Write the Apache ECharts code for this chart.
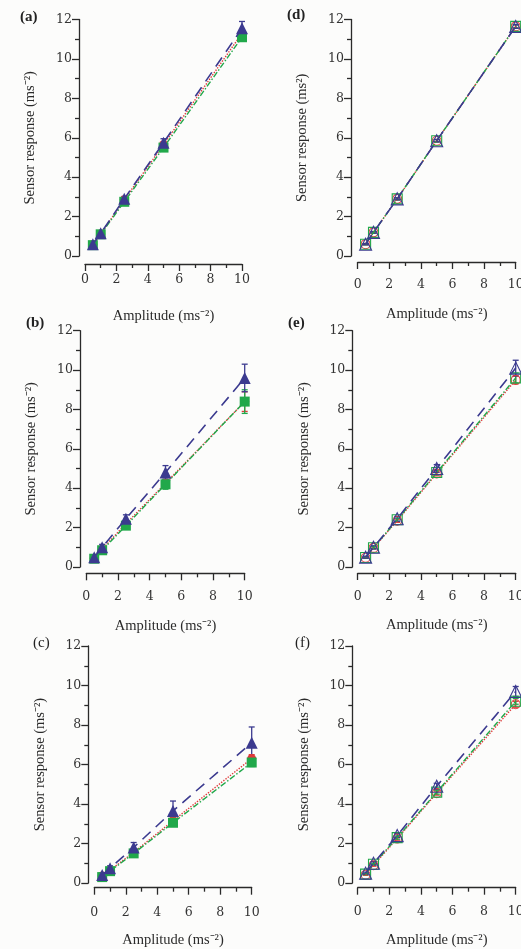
<!DOCTYPE html>
<html lang="en">
<head>
<meta charset="UTF-8">
<title>Sensor response vs amplitude</title>
<script src="https://cdn.jsdelivr.net/npm/echarts@6/dist/echarts.min.js"></script>
<style>
  html, body { margin: 0; padding: 0; background: #fcfcfb; }
  #main { width: 521px; height: 949px; }
</style>
</head>
<body>
<div id="main"></div>
<script>
// excitation amplitude (ms^-2), same for every panel
var amplitude = [0.5, 1, 2.5, 5, 10];
var panelNames = ['(a)', '(b)', '(c)', '(d)', '(e)', '(f)'];

// sensor response, one array per sensor and panel
var redA = [0.58, 1.12, 2.85, 5.65, 11.3];
var greenA = [0.55, 1.1, 2.75, 5.5, 11.1];
var blueA = [0.6, 1.15, 2.9, 5.75, 11.55];
var redB = [0.45, 0.9, 2.2, 4.25, 8.4];
var greenB = [0.42, 0.85, 2.1, 4.2, 8.4];
var blueB = [0.5, 1.0, 2.45, 4.8, 9.6];
var redC = [0.35, 0.65, 1.55, 3.15, 6.3];
var greenC = [0.3, 0.6, 1.5, 3.05, 6.1];
var blueC = [0.4, 0.75, 1.8, 3.65, 7.1];
var redD = [0.6, 1.2, 2.9, 5.85, 11.65];
var greenD = [0.6, 1.2, 2.9, 5.85, 11.65];
var blueD = [0.6, 1.2, 2.9, 5.85, 11.65];
var redE = [0.47, 0.97, 2.35, 4.75, 9.5];
var greenE = [0.48, 0.98, 2.4, 4.8, 9.6];
var blueE = [0.5, 1.0, 2.45, 5.0, 10.1];
var redF = [0.42, 0.9, 2.25, 4.55, 9.05];
var greenF = [0.45, 0.95, 2.3, 4.6, 9.2];
var blueF = [0.5, 1.0, 2.4, 4.9, 9.7];

// error bar half widths
var redErrA = [0.03, 0.05, 0.08, 0.12, 0.2];
var greenErrA = [0.03, 0.05, 0.08, 0.12, 0.2];
var blueErrA = [0.05, 0.08, 0.12, 0.2, 0.35];
var redErrB = [0.04, 0.06, 0.1, 0.2, 0.5];
var greenErrB = [0.05, 0.08, 0.12, 0.25, 0.6];
var blueErrB = [0.1, 0.15, 0.2, 0.35, 0.7];
var redErrC = [0.04, 0.05, 0.08, 0.15, 0.2];
var greenErrC = [0.04, 0.05, 0.08, 0.12, 0.2];
var blueErrC = [0.1, 0.12, 0.25, 0.5, 0.8];
var redErrD = [0.03, 0.04, 0.05, 0.06, 0.08];
var greenErrD = [0.03, 0.04, 0.05, 0.06, 0.08];
var blueErrD = [0.03, 0.04, 0.05, 0.06, 0.1];
var redErrE = [0.03, 0.05, 0.08, 0.12, 0.2];
var greenErrE = [0.03, 0.05, 0.08, 0.12, 0.25];
var blueErrE = [0.05, 0.08, 0.12, 0.2, 0.4];
var redErrF = [0.03, 0.05, 0.08, 0.1, 0.15];
var greenErrF = [0.03, 0.05, 0.08, 0.1, 0.15];
var blueErrF = [0.05, 0.08, 0.1, 0.15, 0.25];

var panelData = [
    [redA, greenA, blueA, redErrA, greenErrA, blueErrA],
    [redB, greenB, blueB, redErrB, greenErrB, blueErrB],
    [redC, greenC, blueC, redErrC, greenErrC, blueErrC],
    [redD, greenD, blueD, redErrD, greenErrD, blueErrD],
    [redE, greenE, blueE, redErrE, greenErrE, blueErrE],
    [redF, greenF, blueF, redErrF, greenErrF, blueErrF]
];

// [left, top, width, height, y axis offset, x axis offset, x label margin]
var layout = [
    [85, 19.5, 157, 236.5, 6, 8, 9],
    [86.3, 330.7, 158.4, 236.3, 6.3, 6.3, 17],
    [94.3, 646, 157.4, 237, 6, 4.7, 19],
    [357.7, 19.5, 158, 236.5, 6.7, 6, 16],
    [357.7, 330.7, 158, 236.3, 5.4, 6, 17],
    [357.7, 646, 158, 237, 5.4, 4.7, 18]
];
var labelPos = [[20, 10], [26, 316], [33, 636], [287, 8], [288, 316], [295, 636]];

var RED = '#e0393a', GREEN = '#21a84a', BLUE = '#3b3a8f';
var axisColor = '#2a2a2a';
var tickFont = 'DejaVu Serif';
var nameFont = 'Liberation Serif';

var chart = echarts.init(document.getElementById('main'));

function pairs(ys, errs) {
    var out = [];
    for (var i = 0; i < amplitude.length; i++) {
        out.push(errs ? [amplitude[i], ys[i], errs[i]] : [amplitude[i], ys[i]]);
    }
    return out;
}

function errorBars(params, api) {
    var x = api.value(0), y = api.value(1), e = api.value(2);
    var top = api.coord([x, y + e]);
    var bot = api.coord([x, y - e]);
    var style = { stroke: api.visual('color'), lineWidth: 1.3 };
    return {
        type: 'group',
        children: [
            { type: 'line', shape: { x1: top[0], y1: top[1], x2: bot[0], y2: bot[1] }, style: style },
            { type: 'line', shape: { x1: top[0] - 3, y1: top[1], x2: top[0] + 3, y2: top[1] }, style: style },
            { type: 'line', shape: { x1: bot[0] - 3, y1: bot[1], x2: bot[0] + 3, y2: bot[1] }, style: style }
        ]
    };
}

var grids = [], xAxes = [], yAxes = [], series = [], graphics = [];
var sensorStyles = [
    { color: RED, symbol: 'circle', size: 9, line: 'dotted', width: 1.4 },
    { color: GREEN, symbol: 'rect', size: 10, line: [6, 2, 1.5, 2], width: 1.4 },
    { color: BLUE, symbol: 'triangle', size: 12, line: [11, 7], width: 1.6 }
];

for (var p = 0; p < 6; p++) {
    var L = layout[p];
    var hollow = p >= 3;
    grids.push({ left: L[0], top: L[1], width: L[2], height: L[3], containLabel: false, outerBoundsMode: 'none' });
    xAxes.push({
        type: 'value', gridIndex: p, min: 0, max: 10, interval: 2, offset: L[5],
        name: 'Amplitude (ms\u207B\u00B2)', nameLocation: 'middle', nameGap: 45, nameMoveOverlap: false,
        nameTextStyle: { fontFamily: nameFont, fontSize: 14.5, color: axisColor },
        axisLine: { show: true, onZero: false, lineStyle: { color: axisColor, width: 1.3 } },
        axisTick: { show: true, length: 7, lineStyle: { color: axisColor, width: 1.3 } },
        minorTick: { show: true, splitNumber: 2, length: 4, lineStyle: { color: axisColor, width: 1.3 } },
        splitLine: { show: false },
        axisLabel: { margin: L[6], fontFamily: tickFont, fontSize: 12.5, color: '#333' }
    });
    yAxes.push({
        type: 'value', gridIndex: p, min: 0, max: 12, interval: 2, offset: L[4],
        name: p === 3 ? 'Sensor response (ms\u00B2)' : 'Sensor response (ms\u207B\u00B2)',
        nameLocation: 'middle', nameGap: 41, nameMoveOverlap: false,
        nameTextStyle: { fontFamily: nameFont, fontSize: 14.5, color: axisColor },
        axisLine: { show: true, onZero: false, lineStyle: { color: axisColor, width: 1.3 } },
        axisTick: { show: true, length: 7, lineStyle: { color: axisColor, width: 1.3 } },
        minorTick: { show: true, splitNumber: 2, length: 4, lineStyle: { color: axisColor, width: 1.3 } },
        splitLine: { show: false },
        axisLabel: { margin: 7, fontFamily: tickFont, fontSize: 12.5, color: '#333' }
    });

    var d = panelData[p];
    for (var s = 0; s < 3; s++) {
        var st = sensorStyles[s];
        series.push({
            type: 'custom', xAxisIndex: p, yAxisIndex: p, z: 1,
            itemStyle: { color: st.color },
            renderItem: errorBars,
            data: pairs(d[s], d[s + 3])
        });
        series.push({
            type: 'line', xAxisIndex: p, yAxisIndex: p, z: 2 + s,
            symbol: st.symbol, symbolSize: st.size, showSymbol: true,
            lineStyle: { color: st.color, width: st.width, type: st.line },
            itemStyle: hollow
                ? { color: 'rgba(255,255,255,0)', borderColor: st.color, borderWidth: 1.1 }
                : { color: st.color },
            emphasis: { disabled: true },
            data: pairs(d[s])
        });
    }

    graphics.push({
        type: 'text', left: labelPos[p][0], top: labelPos[p][1],
        style: {
            text: panelNames[p],
            font: (p === 2 || p === 5 ? '' : 'bold ') + '15px "Liberation Serif"',
            fill: '#222'
        }
    });
}

chart.setOption({
    backgroundColor: '#fcfcfb',
    animation: false,
    grid: grids,
    xAxis: xAxes,
    yAxis: yAxes,
    series: series,
    graphic: graphics
});
</script>
</body>
</html>
